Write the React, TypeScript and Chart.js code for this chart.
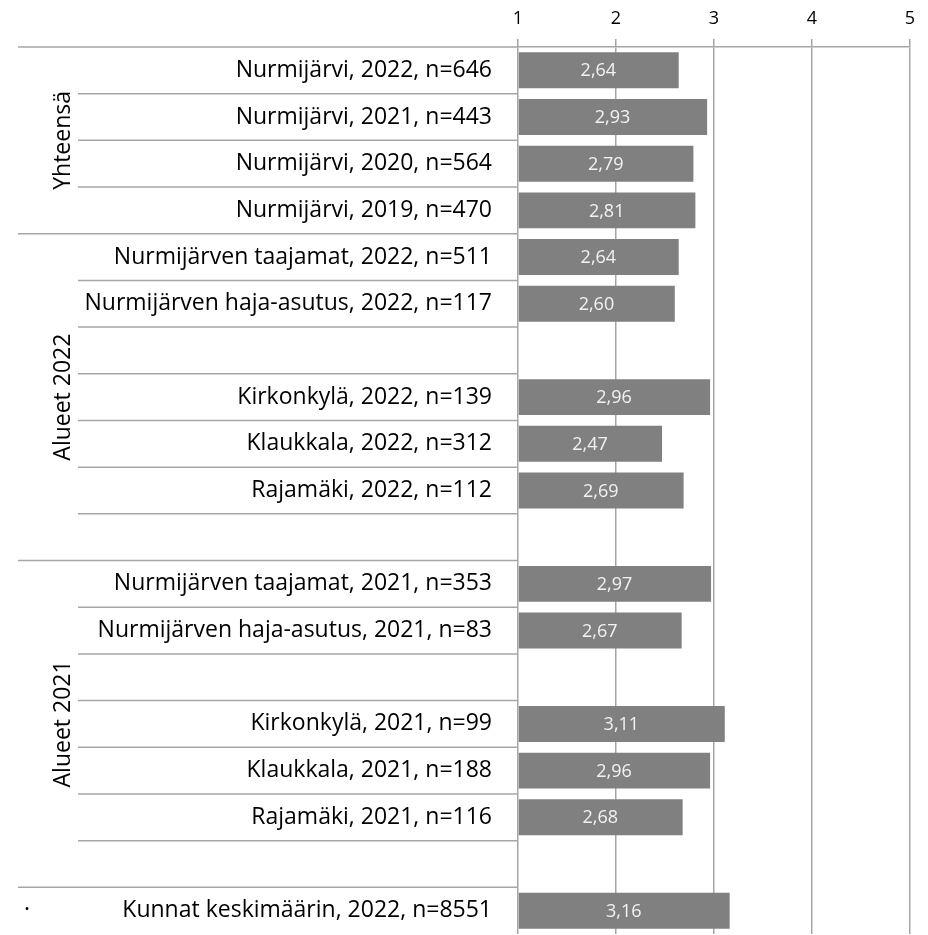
import React, { useEffect, useRef } from "react";
import { Chart, registerables } from "chart.js";

Chart.register(...registerables);

const categories: string[] = [
  "Nurmijärvi, 2022, n=646",
  "Nurmijärvi, 2021, n=443",
  "Nurmijärvi, 2020, n=564",
  "Nurmijärvi, 2019, n=470",
  "Nurmijärven taajamat, 2022, n=511",
  "Nurmijärven haja-asutus, 2022, n=117",
  "",
  "Kirkonkylä, 2022, n=139",
  "Klaukkala, 2022, n=312",
  "Rajamäki, 2022, n=112",
  "",
  "Nurmijärven taajamat, 2021, n=353",
  "Nurmijärven haja-asutus, 2021, n=83",
  "",
  "Kirkonkylä, 2021, n=99",
  "Klaukkala, 2021, n=188",
  "Rajamäki, 2021, n=116",
  "",
  "Kunnat keskimäärin, 2022, n=8551",
];

const values: (number | null)[] = [
  2.64, 2.93, 2.79, 2.81, 2.64, 2.6, null, 2.96, 2.47, 2.69, null, 2.97, 2.67, null, 3.11,
  2.96, 2.68, null, 3.16,
];

const groupNames: string[] = ["Yhteensä", "Alueet 2022", "Alueet 2021", "·"];
const groupStartRows: number[] = [0, 4, 11, 18];
const groupEndRows: number[] = [3, 10, 17, 18];

const xMin = 1;
const xMax = 5;
const xStep = 1;

const FONT = "'Open Sans', sans-serif";
const LINE = "#a6a6a6";

const overlayPlugin = {
  id: "overlay",
  afterDraw(chart: any) {
    const { ctx, chartArea, scales } = chart;
    const y = scales.y;
    const n = categories.length;
    const rowH = y.getPixelForValue(1) - y.getPixelForValue(0);
    const left = chartArea.left;
    const groupLineX = left - 500;
    const subLineX = left - 440;
    ctx.save();
    ctx.strokeStyle = LINE;
    ctx.lineWidth = 1.5;
    for (let i = 0; i < n; i++) {
      const yy = y.getPixelForValue(i) - rowH / 2;
      const x0 = groupStartRows.includes(i) ? groupLineX : subLineX;
      ctx.beginPath();
      ctx.moveTo(x0, yy);
      ctx.lineTo(left, yy);
      ctx.stroke();
    }
    ctx.fillStyle = "#000";
    ctx.font = `23px ${FONT}`;
    ctx.textAlign = "center";
    ctx.textBaseline = "middle";
    groupNames.forEach((name, gi) => {
      const y0 = y.getPixelForValue(groupStartRows[gi]) - rowH / 2;
      const y1 = y.getPixelForValue(groupEndRows[gi]) + rowH / 2;
      const cy = (y0 + y1) / 2;
      if (name === "·") {
        ctx.fillText(name, left - 491, cy);
      } else {
        ctx.save();
        ctx.translate(left - 455, cy);
        ctx.rotate(-Math.PI / 2);
        ctx.fillText(name, 0, 0);
        ctx.restore();
      }
    });
    ctx.restore();
  },
};

const valueLabelPlugin = {
  id: "valueLabels",
  afterDatasetsDraw(chart: any) {
    const { ctx } = chart;
    const meta = chart.getDatasetMeta(0);
    const x0 = chart.scales.x.getPixelForValue(xMin);
    ctx.save();
    ctx.fillStyle = "#f2f2f2";
    ctx.font = `18px ${FONT}`;
    ctx.textAlign = "center";
    ctx.textBaseline = "middle";
    meta.data.forEach((bar: any, i: number) => {
      const v = values[i];
      if (v == null) return;
      const cx = (bar.x + x0) / 2;
      ctx.fillText(v.toFixed(2).replace(".", ","), cx, bar.y + 1);
    });
    ctx.restore();
  },
};

export default function App() {
  const ref = useRef<HTMLCanvasElement | null>(null);
  useEffect(() => {
    if (!ref.current) return;
    const chart = new Chart(ref.current, {
      type: "bar",
      data: {
        labels: categories,
        datasets: [
          {
            data: values as any,
            base: xMin,
            backgroundColor: "#808080",
            borderWidth: 0,
            barPercentage: 0.77,
            categoryPercentage: 1,
          } as any,
        ],
      },
      options: {
        indexAxis: "y",
        animation: false,
        responsive: true,
        maintainAspectRatio: false,
        layout: { padding: { left: 0, right: 10, top: 0, bottom: 1 } },
        plugins: { legend: { display: false }, tooltip: { enabled: false } },
        scales: {
          x: {
            position: "top",
            min: xMin,
            max: xMax,
            afterFit: (scale: any) => {
              scale.height = 39;
              scale.paddingLeft = 0;
              scale.paddingRight = 0;
            },
            ticks: {
              stepSize: xStep,
              color: "#000",
              font: { family: FONT, size: 18 },
              padding: 9,
            },
            grid: { color: LINE, lineWidth: 1.5, tickLength: 8 },
            border: { color: LINE, width: 1.5 },
          },
          y: {
            afterFit: (scale: any) => {
              scale.width = 510;
              scale.paddingTop = 0;
              scale.paddingBottom = 0;
            },
            grid: { display: false, drawTicks: false },
            border: { display: false },
            ticks: {
              color: "#000",
              font: { family: FONT, size: 23 },
              padding: 26,
              autoSkip: false,
            },
          },
        },
      },
      plugins: [overlayPlugin, valueLabelPlugin],
    });
    return () => chart.destroy();
  }, []);
  return (
    <div style={{ width: "100%", height: 927, position: "relative" }}>
      <canvas ref={ref} />
    </div>
  );
}
